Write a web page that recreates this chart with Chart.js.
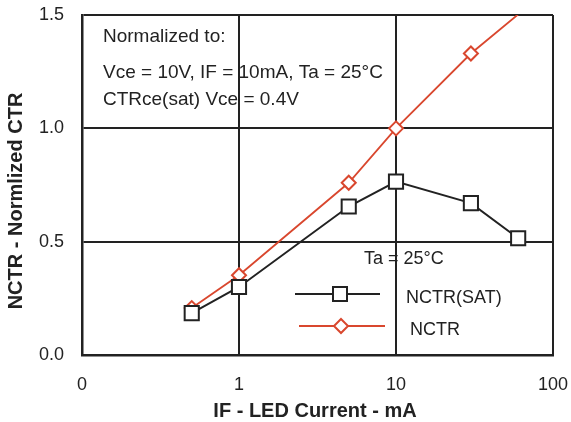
<!DOCTYPE html>
<html>
<head>
<meta charset="utf-8">
<script src="https://cdn.jsdelivr.net/npm/chart.js@4/dist/chart.umd.min.js"></script>
<style>
  body { margin: 0; background: #fff; }
  #wrap { width: 571px; height: 422px; }
</style>
</head>
<body>
<div id="wrap"><canvas id="ctr-chart" width="571" height="422"></canvas></div>
<script>
// IF (mA) values and normalized CTR readings
const satCurrent = [0.5, 1, 5, 10, 30, 60];
const satValues = [0.185, 0.30, 0.655, 0.765, 0.67, 0.515];
const nctrCurrent = [0.5, 1, 5, 10, 30, 100];
const nctrValues = [0.207, 0.352, 0.76, 1.0, 1.33, 1.63];

const xTickValues = [0.1, 1, 10, 100];
const xTickLabels = ["0", "1", "10", "100"];
const yTickValues = [0, 0.5, 1.0, 1.5];

const INK = "#222";
const RED = "#d9472e";
const FONT = '"Liberation Sans", Arial, Helvetica, sans-serif';

function toPoints(xs, ys) {
  return xs.map((x, i) => ({ x: x, y: ys[i] }));
}

// notes, legend and axis titles drawn on top of the plot
const overlay = {
  id: "overlay",
  afterDraw(chart) {
    const ctx = chart.ctx;
    ctx.save();
    ctx.fillStyle = INK;
    ctx.textBaseline = "alphabetic";
    ctx.textAlign = "left";
    ctx.font = "19px " + FONT;
    ctx.fillText("Normalized to:", 103, 42);
    ctx.fillText("Vce = 10V, IF = 10mA, Ta = 25\u00B0C", 103, 78);
    ctx.fillText("CTRce(sat) Vce = 0.4V", 103, 105);

    ctx.font = "18px " + FONT;
    ctx.fillText("Ta = 25\u00B0C", 364, 264);
    ctx.fillText("NCTR(SAT)", 406, 303);
    ctx.fillText("NCTR", 410, 335);

    // legend sample: black line with square
    ctx.strokeStyle = INK;
    ctx.lineWidth = 2;
    ctx.beginPath();
    ctx.moveTo(295, 294);
    ctx.lineTo(380, 294);
    ctx.stroke();
    ctx.fillStyle = "#fff";
    ctx.fillRect(333, 287, 14, 14);
    ctx.strokeRect(333, 287, 14, 14);

    // legend sample: red line with diamond
    ctx.strokeStyle = RED;
    ctx.lineWidth = 1.8;
    ctx.beginPath();
    ctx.moveTo(299, 326);
    ctx.lineTo(385, 326);
    ctx.stroke();
    ctx.lineWidth = 2;
    ctx.beginPath();
    ctx.moveTo(341, 319);
    ctx.lineTo(348, 326);
    ctx.lineTo(341, 333);
    ctx.lineTo(334, 326);
    ctx.closePath();
    ctx.fill();
    ctx.stroke();

    // axis titles
    ctx.fillStyle = INK;
    ctx.font = "bold 20px " + FONT;
    ctx.textAlign = "center";
    ctx.fillText("IF - LED Current - mA", 315, 417);
    ctx.translate(22, 201);
    ctx.rotate(-Math.PI / 2);
    ctx.fillText("NCTR - Normlized CTR", 0, 0);
    ctx.restore();
  },
};

new Chart(document.getElementById("ctr-chart").getContext("2d"), {
  type: "line",
  data: {
    datasets: [
      {
        label: "NCTR(SAT)",
        data: toPoints(satCurrent, satValues),
        borderColor: INK,
        borderWidth: 2,
        pointStyle: "rect",
        pointRadius: 10,
        pointBorderWidth: 2,
        pointBackgroundColor: "#fff",
        pointBorderColor: INK,
        clip: 0,
      },
      {
        label: "NCTR",
        data: toPoints(nctrCurrent, nctrValues),
        borderColor: RED,
        borderWidth: 1.8,
        pointStyle: "rectRot",
        pointRadius: 7,
        pointBorderWidth: 2,
        pointBackgroundColor: "#fff",
        pointBorderColor: RED,
        clip: 0,
      },
    ],
  },
  options: {
    responsive: false,
    animation: false,
    events: [],
    layout: { padding: { top: 15, right: 18, left: 0, bottom: 0 } },
    plugins: { legend: { display: false }, tooltip: { enabled: false } },
    scales: {
      x: {
        type: "logarithmic",
        min: 0.1,
        max: 100,
        afterBuildTicks: (scale) => {
          scale.ticks = xTickValues.map((v) => ({ value: v }));
        },
        // fixed height, and no extra room reserved for the end labels
        afterFit: (scale) => {
          scale.height = 67;
          scale.paddingLeft = 0;
          scale.paddingRight = 0;
        },
        ticks: {
          autoSkip: false,
          maxRotation: 0,
          padding: 19,
          color: INK,
          font: { family: FONT, size: 18 },
          callback: (value, index) => xTickLabels[index],
        },
        grid: { color: INK, lineWidth: 2, drawTicks: false },
        border: { color: INK, width: 2.5 },
      },
      y: {
        min: 0,
        max: 1.5,
        afterBuildTicks: (scale) => {
          scale.ticks = yTickValues.map((v) => ({ value: v }));
        },
        afterFit: (scale) => {
          scale.width = 82;
          scale.paddingTop = 0;
          scale.paddingBottom = 0;
        },
        ticks: {
          padding: 18,
          color: INK,
          font: { family: FONT, size: 18 },
          callback: (value) => value.toFixed(1),
        },
        grid: { color: INK, lineWidth: 2, drawTicks: false },
        border: { color: INK, width: 2.5 },
      },
    },
  },
  plugins: [overlay],
});
</script>
</body>
</html>
